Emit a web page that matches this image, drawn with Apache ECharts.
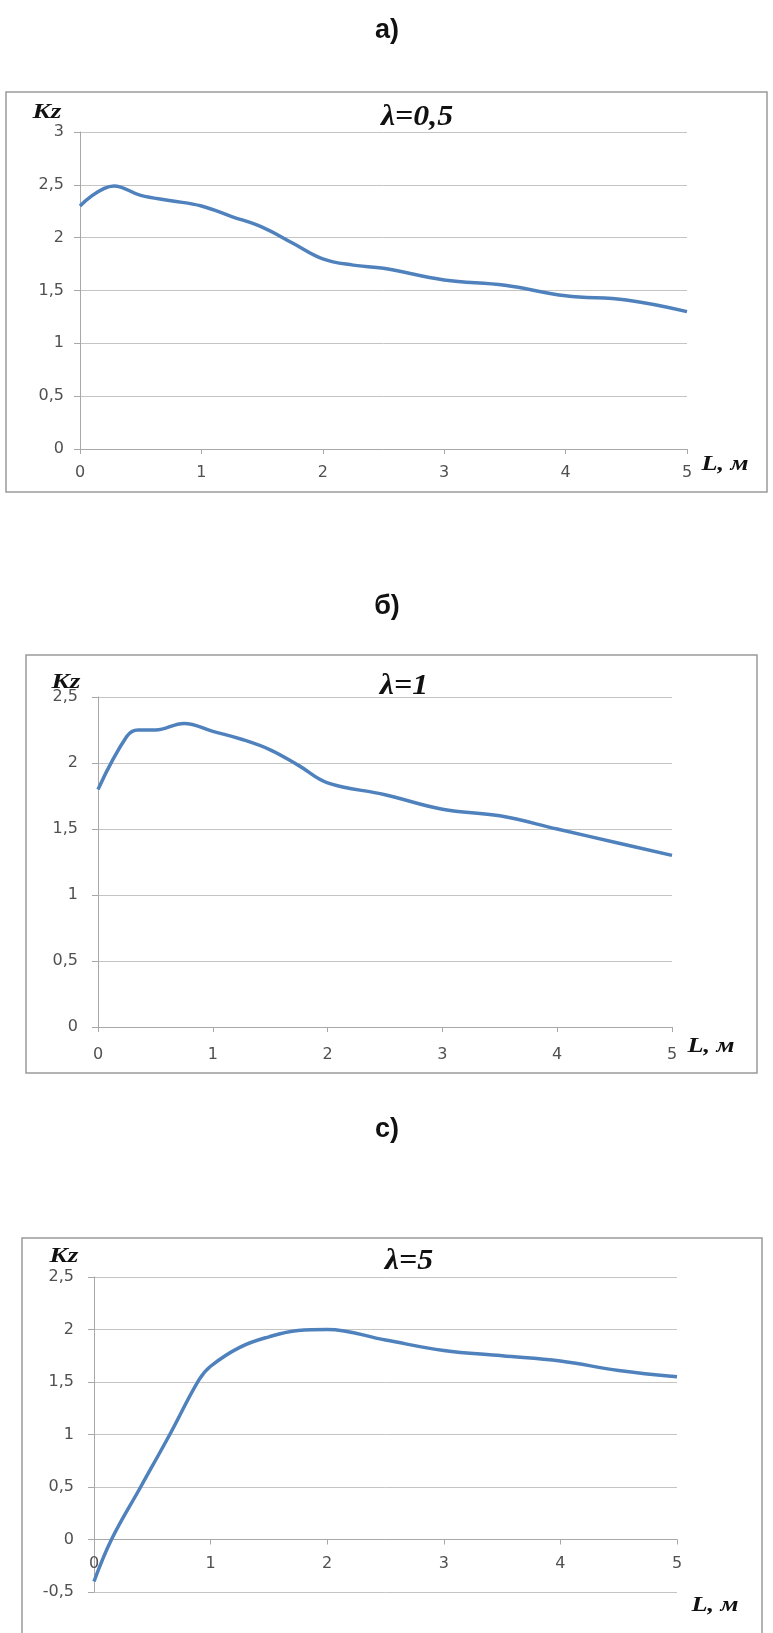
<!DOCTYPE html>
<html>
<head>
<meta charset="utf-8">
<script src="https://cdn.jsdelivr.net/npm/echarts@6/dist/echarts.min.js"></script>
<style>
  html, body { margin: 0; padding: 0; background: #fff; }
  #chart { width: 773px; height: 1633px; }
</style>
</head>
<body>
<div id="chart"></div>
<script>
// Kz(L) для трёх значений λ, точки
const lenA = [0, 0.28, 0.5, 0.75, 1, 1.25, 1.5, 1.75, 2, 2.25, 2.5, 3, 3.5, 4, 4.5, 5];
const kzA  = [2.3, 2.49, 2.4, 2.35, 2.3, 2.2, 2.1, 1.95, 1.8, 1.74, 1.71, 1.6, 1.55, 1.45, 1.41, 1.3];

const lenB = [0, 0.25, 0.35, 0.5, 0.75, 1, 1.25, 1.5, 1.75, 2, 2.5, 3, 3.5, 4, 4.5, 5];
const kzB  = [1.8, 2.2, 2.25, 2.25, 2.3, 2.24, 2.18, 2.1, 1.98, 1.85, 1.76, 1.65, 1.6, 1.5, 1.4, 1.3];

const lenC = [0, 0.15, 0.4, 0.65, 0.9, 1, 1.25, 1.5, 1.75, 2, 2.5, 3, 3.5, 4, 4.5, 5];
const kzC  = [-0.4, 0, 0.5, 1.0, 1.52, 1.65, 1.83, 1.93, 1.99, 2.0, 1.9, 1.8, 1.75, 1.7, 1.61, 1.55];

const panelLabels = ['а)', 'б)', 'с)'];
const lambdaTitles = ['λ=0,5', 'λ=1', 'λ=5'];
const yRanges = [[0, 3], [0, 2.5], [-0.5, 2.5]];

const chart = echarts.init(document.getElementById('chart'));

const serif = '"Liberation Serif", "DejaVu Serif", serif';
const labelFont = '"DejaVu Sans", "Liberation Sans", sans-serif';
const lineColor = '#4f81bd';

const grids = [
  {left: 80, top: 132, width: 607, height: 317},
  {left: 98, top: 697, width: 574, height: 330},
  {left: 94, top: 1277, width: 583, height: 315}
];

const frames = [
  {x: 6, y: 92, width: 761, height: 400},
  {x: 26, y: 655, width: 731, height: 418},
  {x: 22, y: 1238, width: 740, height: 420}
];

const series = [
  lenA.map((l, i) => [l, kzA[i]]),
  lenB.map((l, i) => [l, kzB[i]]),
  lenC.map((l, i) => [l, kzC[i]])
];

// у графика с) ось L проходит через Kz=0
const xOffsets = [0, 0, -52.5];

const xAxes = grids.map((g, i) => ({
  type: 'value',
  gridIndex: i,
  min: 0,
  max: 5,
  interval: 1,
  offset: xOffsets[i],
  axisLine: {onZero: false, lineStyle: {color: '#a8a8a8', width: 1}},
  axisTick: {show: true, length: 5, lineStyle: {color: '#a8a8a8'}},
  axisLabel: {color: '#505050', fontSize: 16, fontFamily: labelFont, margin: i === 1 ? 20 : 16},
  splitLine: {show: false}
}));

const yAxes = grids.map((g, i) => ({
  type: 'value',
  gridIndex: i,
  min: yRanges[i][0],
  max: yRanges[i][1],
  interval: 0.5,
  axisLine: {show: true, lineStyle: {color: '#a8a8a8', width: 1}},
  axisTick: {show: true, length: 6, lineStyle: {color: '#a8a8a8'}},
  axisLabel: {
    color: '#505050', fontSize: 16, fontFamily: labelFont, margin: i === 0 ? 16 : 20,
    formatter: v => String(v).replace('.', ',')
  },
  splitLine: {show: true, lineStyle: {color: '#c4c4c4', width: 1}}
}));

function label(x, y, text, font, sx) {
  return {type: 'text', x: x, y: y, scaleX: sx || 1, style: {
    text: text, font: font, fill: '#111', textAlign: 'center', textVerticalAlign: 'middle'
  }};
}

const texts = [];
[31, 607, 1130].forEach((y, i) => {
  texts.push(label(387, y, panelLabels[i], 'bold 27px "Liberation Sans", Arial, sans-serif'));
});
[[417, 118], [404, 687], [409, 1262]].forEach((p, i) => {
  texts.push(label(p[0], p[1], lambdaTitles[i], 'bold italic 29px ' + serif, 1.1));
});
[[47, 113], [66, 683], [64, 1257]].forEach(p => {
  texts.push(label(p[0], p[1], 'Kz', 'bold italic 21px ' + serif, 1.3));
});
[[725, 465], [711, 1047], [715, 1606]].forEach(p => {
  texts.push(label(p[0], p[1], 'L, м', 'bold italic 21px ' + serif, 1.25));
});

const option = {
  backgroundColor: '#fff',
  animation: false,
  grid: grids,
  xAxis: xAxes,
  yAxis: yAxes,
  series: series.map((d, i) => ({
    type: 'line',
    xAxisIndex: i,
    yAxisIndex: i,
    data: d,
    smooth: 0.4,
    showSymbol: false,
    lineStyle: {color: lineColor, width: 3.5}
  })),
  graphic: frames.map(f => ({
    type: 'rect',
    shape: f,
    style: {fill: 'none', stroke: '#9a9a9a', lineWidth: 1.5},
    silent: true
  })).concat(texts)
};

chart.setOption(option);
</script>
</body>
</html>
